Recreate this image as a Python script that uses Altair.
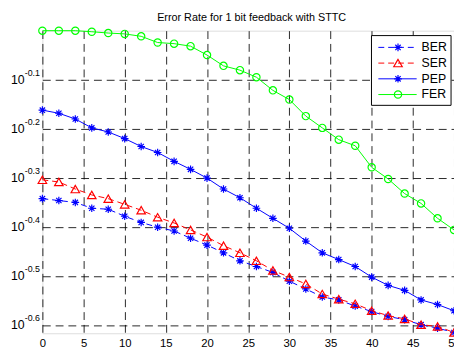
import altair as alt
import pandas as pd

# ---------------- data ----------------
x_vals = list(range(0, 51, 2))

ber = [0.455, 0.451, 0.447, 0.435, 0.433, 0.419, 0.407, 0.398, 0.391, 0.378,
       0.366, 0.353, 0.340, 0.331, 0.322, 0.309, 0.298, 0.287, 0.283, 0.275,
       0.268, 0.262, 0.258, 0.252, 0.248, 0.243]
ser = [0.497, 0.492, 0.476, 0.463, 0.455, 0.443, 0.431, 0.417, 0.406, 0.393,
       0.380, 0.365, 0.353, 0.340, 0.325, 0.315, 0.305, 0.291, 0.284, 0.278,
       0.269, 0.263, 0.259, 0.252, 0.250, 0.243]
pep = [0.689, 0.679, 0.661, 0.634, 0.622, 0.603, 0.581, 0.565, 0.542, 0.522,
       0.501, 0.476, 0.457, 0.435, 0.415, 0.396, 0.373, 0.353, 0.342, 0.331,
       0.315, 0.303, 0.296, 0.283, 0.277, 0.269]
fer = [1.000, 1.000, 1.000, 0.995, 0.989, 0.985, 0.974, 0.946, 0.941, 0.930,
       0.892, 0.848, 0.831, 0.804, 0.756, 0.724, 0.670, 0.634, 0.600, 0.583,
       0.527, 0.499, 0.466, 0.445, 0.415, 0.393]

series_names = ["BER", "SER", "PEP", "FER"]
x_ticks = [0, 5, 10, 15, 20, 25, 30, 35, 40, 45, 50]
y_tick_values = [0.7943, 0.6310, 0.5012, 0.3981, 0.3162, 0.2512]
y_tick_exps = ["-0.1", "-0.2", "-0.3", "-0.4", "-0.5", "-0.6"]
title_text = "Error Rate for 1 bit feedback with STTC"

# ---------------- styling ----------------
FONT = "Liberation Sans"
W, H = 419, 308
BLUE, RED, GREEN = "#0000ff", "#ff0000", "#00ff00"
ASTER = "M0,-1L0,1M-1,0L1,0M-0.7,-0.7L0.7,0.7M-0.7,0.7L0.7,-0.7"
DASH = [6, 4]
GRID_DASH = [8, 5]

xscale = alt.Scale(domain=[0, 50], nice=False, zero=False)
yscale = alt.Scale(type="log", domain=[0.2421, 1.0], nice=False)

xaxis = alt.Axis(values=x_ticks, grid=True, gridDash=GRID_DASH, gridColor="black",
                 gridOpacity=0.85, gridWidth=1, domain=False, ticks=False,
                 labelFontSize=11.5, labelFont=FONT, labelColor="black",
                 labelPadding=4, labelFlush=False, labelOverlap=False, title=None)
yaxis = alt.Axis(values=y_tick_values, grid=True, gridDash=GRID_DASH, gridColor="black",
                 gridOpacity=0.85, gridWidth=1, domain=False, ticks=False,
                 labels=False, title=None)

X = alt.X("x:Q", scale=xscale, axis=xaxis, title=None)
Y = alt.Y("y:Q", scale=yscale, axis=yaxis, title=None)


def series_layers(values, color, dashed, shape, size):
    df = pd.DataFrame({"x": x_vals, "y": values})
    base = alt.Chart(df).encode(x=X, y=Y)
    if dashed:
        line = base.mark_line(color=color, strokeWidth=1, strokeDash=DASH)
    else:
        line = base.mark_line(color=color, strokeWidth=1)
    pts = base.mark_point(shape=shape, size=size, filled=False, color=color,
                          strokeWidth=1.2, opacity=1)
    return [line, pts]


styles = {
    "BER": (ber, BLUE, True, ASTER, 60),
    "SER": (ser, RED, True, "triangle-up", 75),
    "PEP": (pep, BLUE, False, ASTER, 60),
    "FER": (fer, GREEN, False, "circle", 55),
}

layers = []
for name in series_names:
    layers += series_layers(*styles[name])

# y tick labels as 10^exp
lab_df = pd.DataFrame({"x": [0] * len(y_tick_values), "y": y_tick_values,
                       "exp": y_tick_exps, "base": ["10"] * len(y_tick_values)})
layers.append(alt.Chart(lab_df).mark_text(align="right", baseline="middle",
                                          fontSize=12.5, font=FONT, color="black")
              .encode(x=alt.value(-18), y=Y, text="base:N"))
layers.append(alt.Chart(lab_df).mark_text(align="left", baseline="middle", dy=-7,
                                          fontSize=9, font=FONT, color="black")
              .encode(x=alt.value(-18), y=Y, text="exp:N"))

# title as a text mark above the plot
dummy = pd.DataFrame({"a": [0]})
layers.append(alt.Chart(dummy).mark_text(align="center", baseline="alphabetic",
                                         fontSize=11, font=FONT, color="black")
              .encode(x=alt.value(213), y=alt.value(-10), text=alt.value(title_text)))

# legend
layers.append(alt.Chart(dummy).mark_rect(fill="white", stroke="black", strokeWidth=1)
              .encode(x=alt.value(335), x2=alt.value(416), y=alt.value(5), y2=alt.value(76)))
leg_y = [17, 33, 49, 65]
for name, yy in zip(series_names, leg_y):
    vals, color, dashed, shape, size = styles[name]
    if dashed:
        rule = alt.Chart(dummy).mark_rule(color=color, strokeWidth=1, strokeDash=DASH)
    else:
        rule = alt.Chart(dummy).mark_rule(color=color, strokeWidth=1)
    layers.append(rule.encode(x=alt.value(342), x2=alt.value(381), y=alt.value(yy)))
    layers.append(alt.Chart(dummy).mark_point(shape=shape, size=size, filled=False,
                                              color=color, strokeWidth=1.2, opacity=1)
                  .encode(x=alt.value(362), y=alt.value(yy)))
    layers.append(alt.Chart(dummy).mark_text(align="left", baseline="middle", fontSize=12.5,
                                             font=FONT, color="black")
                  .encode(x=alt.value(386), y=alt.value(yy), text=alt.value(name)))

chart = alt.layer(*layers).properties(
    width=W, height=H,
    autosize=alt.AutoSizeParams(type="none"),
    padding={"left": 35, "top": 20, "right": 0, "bottom": 16},
).configure_view(stroke="black", strokeWidth=2).configure(background="white")

chart.save("out.html", embed_options={"renderer": "svg", "actions": False})
